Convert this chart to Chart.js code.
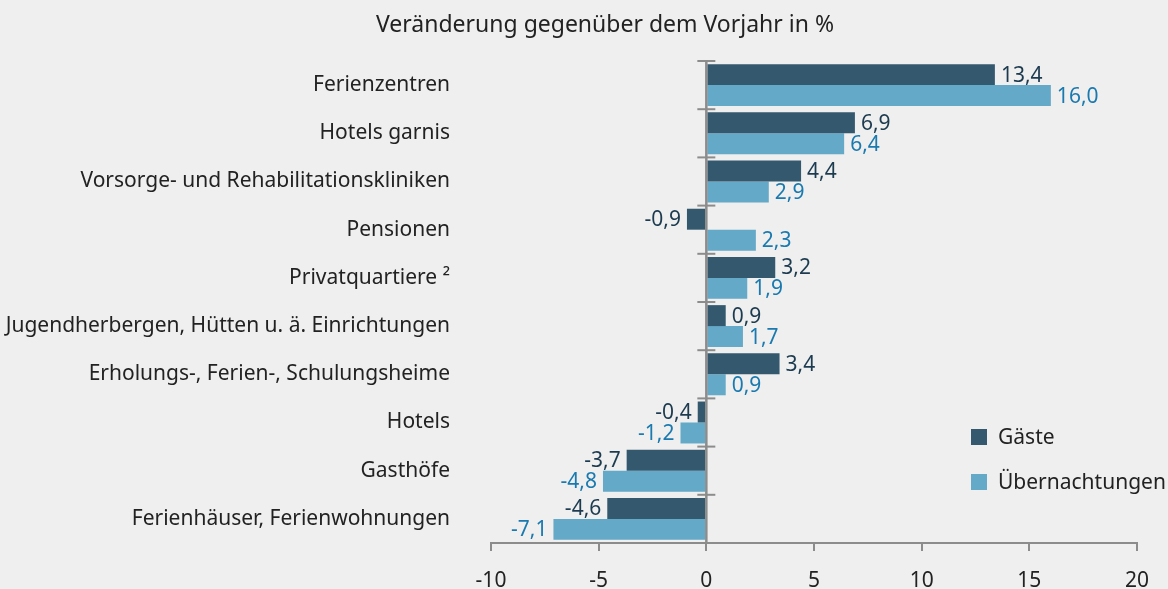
<!DOCTYPE html>
<html lang="de">
<head>
<meta charset="utf-8">
<title>Veränderung gegenüber dem Vorjahr</title>
<script src="https://cdn.jsdelivr.net/npm/chart.js@4"></script>
<style>
  html, body { margin: 0; padding: 0; background: #eeefee; overflow: hidden; }
  #wrap { position: relative; width: 1168px; height: 594px; }
</style>
</head>
<body>
<div id="wrap"><canvas id="chart"></canvas></div>
<script>
const categories = [
    'Ferienzentren',
    'Hotels garnis',
    'Vorsorge- und Rehabilitationskliniken',
    'Pensionen',
    'Privatquartiere ²',
    'Jugendherbergen, Hütten u. ä. Einrichtungen',
    'Erholungs-, Ferien-, Schulungsheime',
    'Hotels',
    'Gasthöfe',
    'Ferienhäuser, Ferienwohnungen'
];
const gaeste = [13.4, 6.9, 4.4, -0.9, 3.2, 0.9, 3.4, -0.4, -3.7, -4.6];
const uebernachtungen = [16.0, 6.4, 2.9, 2.3, 1.9, 1.7, 0.9, -1.2, -4.8, -7.1];
const xTicks = [-10, -5, 0, 5, 10, 15, 20];
const titleText = 'Veränderung gegenüber dem Vorjahr in %';

const barColors = ['#34596f', '#65a9c8'];
const labelColors = ['#1d3b50', '#1a7ab0'];
const axisGrey = '#8c8c8c';
const fontFamily = '"Noto Sans", "Open Sans", sans-serif';

Chart.defaults.font.family = fontFamily;
Chart.defaults.color = '#222';

function fmt(v) {
    return v.toFixed(1).replace('.', ',');
}

// title over the plot, a bit right of the canvas centre like the original
const topTitle = {
    id: 'topTitle',
    afterDraw(chart) {
        const ctx = chart.ctx;
        ctx.save();
        ctx.font = '23px ' + fontFamily;
        ctx.fillStyle = '#222';
        ctx.textAlign = 'center';
        ctx.textBaseline = 'middle';
        ctx.fillText(titleText, chart.width / 2 + 21, 25);
        ctx.restore();
    }
};

// value labels next to each bar
const valueLabels = {
    id: 'valueLabels',
    afterDatasetsDraw(chart) {
        const ctx = chart.ctx;
        ctx.save();
        ctx.font = '21px ' + fontFamily;
        ctx.textBaseline = 'middle';
        chart.data.datasets.forEach((ds, i) => {
            const meta = chart.getDatasetMeta(i);
            meta.data.forEach((bar, j) => {
                const v = ds.data[j];
                ctx.fillStyle = labelColors[i];
                if (v >= 0) {
                    ctx.textAlign = 'left';
                    ctx.fillText(fmt(v), bar.x + 6, bar.y + 1);
                } else {
                    ctx.textAlign = 'right';
                    ctx.fillText(fmt(v), bar.x - 6, bar.y + 1);
                }
            });
        });
        ctx.restore();
    }
};

// zero line with small ticks between categories
const zeroLine = {
    id: 'zeroLine',
    afterDatasetsDraw(chart) {
        const ctx = chart.ctx;
        const x = chart.scales.x;
        const y = chart.scales.y;
        const x0 = x.getPixelForValue(0);
        const step = y.getPixelForValue(1) - y.getPixelForValue(0);
        ctx.save();
        ctx.strokeStyle = axisGrey;
        ctx.lineWidth = 2.5;
        ctx.beginPath();
        ctx.moveTo(x0, chart.chartArea.top);
        ctx.lineTo(x0, chart.chartArea.bottom);
        ctx.stroke();
        ctx.lineWidth = 2;
        for (let i = 0; i <= categories.length; i++) {
            const yy = y.getPixelForValue(i) - step / 2;
            ctx.beginPath();
            ctx.moveTo(x0 - 9, yy);
            ctx.lineTo(x0 + 9, yy);
            ctx.stroke();
        }
        ctx.restore();
    }
};

// legend in the lower right of the plot area
const boxLegend = {
    id: 'boxLegend',
    afterDraw(chart) {
        const ctx = chart.ctx;
        const area = chart.chartArea;
        ctx.save();
        ctx.font = '21px ' + fontFamily;
        ctx.textBaseline = 'middle';
        ctx.textAlign = 'left';
        chart.data.datasets.forEach((ds, i) => {
            const cy = area.bottom - 106 + i * 45;
            ctx.fillStyle = ds.backgroundColor;
            ctx.fillRect(area.right - 166, cy - 8, 16, 16);
            ctx.fillStyle = '#222';
            ctx.fillText(ds.label, area.right - 139, cy + 1);
        });
        ctx.restore();
    }
};

const ctx = document.getElementById('chart').getContext('2d');
const myChart = new Chart(ctx, {
    type: 'bar',
    data: {
        labels: categories,
        datasets: [{
            label: 'Gäste',
            data: gaeste,
            backgroundColor: barColors[0],
            borderWidth: 0,
            barPercentage: 1,
            categoryPercentage: 0.87
        }, {
            label: 'Übernachtungen',
            data: uebernachtungen,
            backgroundColor: barColors[1],
            borderWidth: 0,
            barPercentage: 1,
            categoryPercentage: 0.87
        }]
    },
    options: {
        indexAxis: 'y',
        responsive: true,
        maintainAspectRatio: false,
        devicePixelRatio: 1,
        animation: false,
        events: [],
        layout: {
            padding: { left: 0, right: 31, top: 61, bottom: 0 }
        },
        plugins: {
            legend: { display: false },
            tooltip: { enabled: false },
            title: { display: false }
        },
        scales: {
            x: {
                min: -10,
                max: 20,
                afterBuildTicks: (scale) => {
                    scale.ticks = xTicks.map(v => ({ value: v }));
                },
                afterFit: (scale) => { scale.height = 51; },
                grid: {
                    display: true,
                    drawOnChartArea: false,
                    tickLength: 8,
                    tickColor: axisGrey,
                    lineWidth: 2
                },
                border: { color: axisGrey, width: 2 },
                ticks: {
                    padding: 17,
                    color: '#222',
                    font: { size: 21 },
                    callback: (v) => String(v)
                }
            },
            y: {
                afterFit: (scale) => { scale.width = 491; },
                grid: { display: false },
                border: { display: false },
                ticks: {
                    padding: 33,
                    color: '#222',
                    font: { size: 21 }
                }
            }
        }
    },
    plugins: [zeroLine, valueLabels, boxLegend, topTitle]
});
</script>
</body>
</html>
